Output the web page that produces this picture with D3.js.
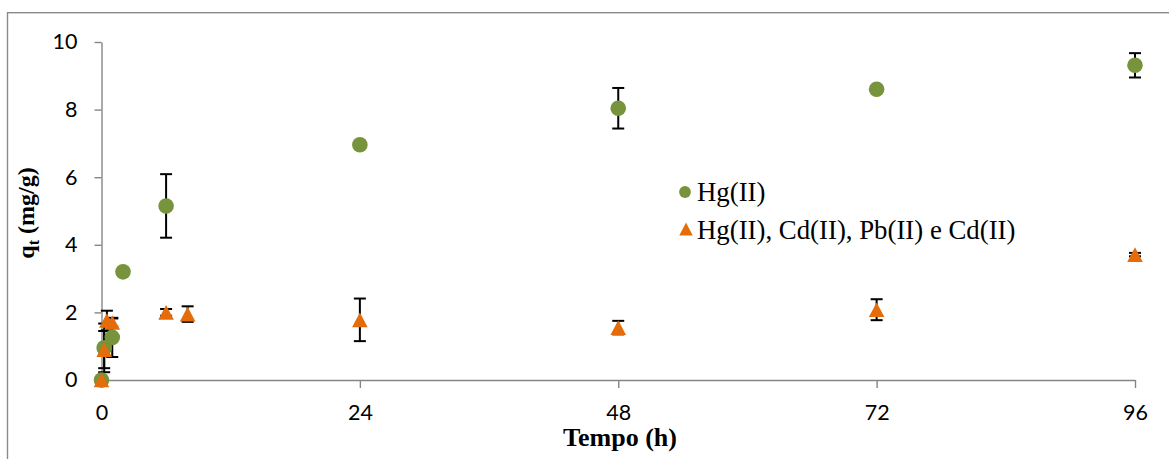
<!DOCTYPE html>
<html>
<head>
<meta charset="utf-8">
<script src="https://cdn.jsdelivr.net/npm/d3@7"></script>
<style>
  html, body { margin: 0; padding: 0; background: #fff; }
  svg { display: block; }
</style>
</head>
<body>
<div id="chart"></div>
<script>
// Adsorption kinetics: q_t (mg/g) versus contact time (h)
const xTicks = [0, 24, 48, 72, 96];
const yTicks = [0, 2, 4, 6, 8, 10];

// Hg(II) alone
const hgTime = [0, 0.25, 1, 2, 6, 24, 48, 72, 96];
const hgQ    = [0, 0.95, 1.26, 3.2, 5.15, 6.96, 8.04, 8.6, 9.31];
const hgErr  = [0, 0.72, 0.58, 0.05, 0.94, 0.05, 0.6, 0.08, 0.36];

// Multi-metal solution
const mixTime = [0, 0.25, 0.5, 1, 6, 8, 24, 48, 72, 96];
const mixQ    = [0, 0.9, 1.76, 1.7, 2.0, 1.95, 1.78, 1.55, 2.08, 3.71];
const mixErr  = [0, 0.55, 0.29, 0.12, 0.1, 0.23, 0.63, 0.2, 0.31, 0.05];

const legendLabels = ["Hg(II)", "Hg(II), Cd(II), Pb(II) e Cd(II)"];

const W = 1169, H = 459;
const green = "#77933C", orange = "#E46C0A", axisGrey = "#868686";
const tickFont = "Lato, 'Open Sans', sans-serif";
const serif = "'Liberation Serif', 'Times New Roman', serif";

const svg = d3.select("#chart").append("svg")
  .attr("width", W).attr("height", H);

// chart-area frame
svg.append("rect")
  .attr("x", 7.5).attr("y", 12.7)
  .attr("width", W + 10).attr("height", H + 10)
  .attr("fill", "none").attr("stroke", "#8a8a8a").attr("stroke-width", 1.4);

const x = d3.scaleLinear().domain([0, 96]).range([101.5, 1135]);
const y = d3.scaleLinear().domain([0, 10]).range([380, 42]);

// axes
const gx = svg.append("g").attr("transform", `translate(0,${y(0)})`)
  .call(d3.axisBottom(x).tickValues(xTicks).tickSize(8).tickSizeOuter(0).tickPadding(17));
const gy = svg.append("g").attr("transform", `translate(${x(0)},0)`)
  .call(d3.axisLeft(y).tickValues(yTicks).tickSize(7).tickSizeOuter(0).tickPadding(17));

[gx, gy].forEach(g => {
  g.select(".domain").attr("stroke", axisGrey).attr("stroke-width", 1.4);
  g.selectAll(".tick line").attr("stroke", axisGrey).attr("stroke-width", 1.4);
  g.selectAll(".tick text")
    .attr("fill", "#000")
    .style("font-family", tickFont)
    .style("font-size", "21.5px");
});

// axis titles
svg.append("text")
  .attr("x", 620).attr("y", 446)
  .attr("text-anchor", "middle")
  .style("font-family", serif).style("font-size", "26px").style("font-weight", "bold")
  .text("Tempo (h)");

const yTitle = svg.append("text")
  .attr("transform", "translate(34,213) rotate(-90)")
  .attr("text-anchor", "middle")
  .style("font-family", serif).style("font-size", "24px").style("font-weight", "bold");
yTitle.append("tspan").text("q");
yTitle.append("tspan").attr("dy", 5).style("font-size", "16px").text("t");
yTitle.append("tspan").attr("dy", -5).text(" (mg/g)");

// error bars
function errorBars(times, vals, errs) {
  const g = svg.append("g").attr("stroke", "#000").attr("stroke-width", 2).attr("fill", "none");
  const cap = 6;
  times.forEach((t, i) => {
    if (!errs[i]) return;
    const cx = x(t), y1 = y(vals[i] + errs[i]), y2 = y(vals[i] - errs[i]);
    g.append("line").attr("x1", cx).attr("x2", cx).attr("y1", y1).attr("y2", y2);
    g.append("line").attr("x1", cx - cap).attr("x2", cx + cap).attr("y1", y1).attr("y2", y1);
    g.append("line").attr("x1", cx - cap).attr("x2", cx + cap).attr("y1", y2).attr("y2", y2);
  });
}
errorBars(hgTime, hgQ, hgErr);
errorBars(mixTime, mixQ, mixErr);

// triangle marker centred on its bounding box
function triPath(w, h) {
  return `M0,${-h / 2}L${w / 2},${h / 2}L${-w / 2},${h / 2}Z`;
}

// markers
svg.append("g").selectAll("circle")
  .data(hgTime.map((t, i) => [t, hgQ[i]]))
  .join("circle")
  .attr("cx", d => x(d[0])).attr("cy", d => y(d[1]))
  .attr("r", 7.8).attr("fill", green);

svg.append("g").selectAll("path")
  .data(mixTime.map((t, i) => [t, mixQ[i]]))
  .join("path")
  .attr("transform", d => `translate(${x(d[0])},${y(d[1])})`)
  .attr("d", triPath(15.6, 14.6)).attr("fill", orange);

// legend
const lg = svg.append("g");
lg.append("circle").attr("cx", 685).attr("cy", 192).attr("r", 5.9).attr("fill", green);
lg.append("path").attr("transform", "translate(686,229)").attr("d", triPath(13.5, 13)).attr("fill", orange);
lg.selectAll("text").data(legendLabels).join("text")
  .attr("x", 697).attr("y", (d, i) => 201 + i * 37.5)
  .style("font-family", serif).style("font-size", "26.8px").attr("fill", "#000")
  .text(d => d);
</script>
</body>
</html>
